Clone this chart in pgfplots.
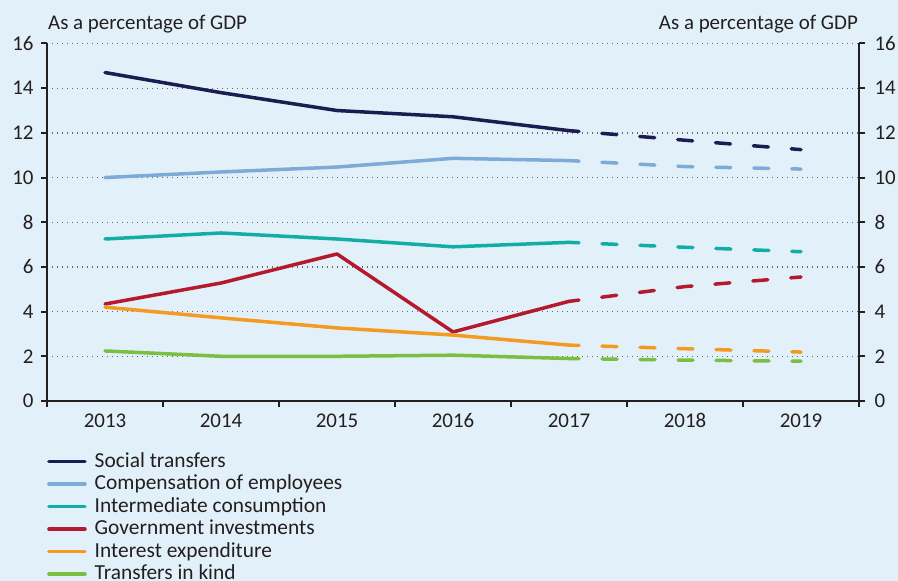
\documentclass[border=0pt]{standalone}
\usepackage{fontspec}
\setmainfont{Carlito}
\usepackage{pgfplots}
\pgfplotsset{compat=1.18}
\definecolor{bgcol}{RGB}{226,241,249}
\definecolor{txt}{RGB}{35,31,32}
\definecolor{cNavy}{RGB}{27,29,80}
\definecolor{cLblue}{RGB}{125,170,214}
\definecolor{cTeal}{RGB}{18,174,166}
\definecolor{cRed}{RGB}{180,25,45}
\definecolor{cOrange}{RGB}{243,154,33}
\definecolor{cGreen}{RGB}{122,190,66}
\pgfplotsset{
  base/.style={scale only axis, width=812bp, height=357.5bp,
    at={(47bp,180bp)}, anchor=south west,
    xmin=2012.5, xmax=2019.5, ymin=0, ymax=16,
    ytick={0,2,...,16},
    axis line style={txt, line width=2.5bp},
    tick style={txt, line width=2bp},
    major tick length=6bp, tick align=outside,
    ticklabel style={font=\fontsize{21}{23}\selectfont, text=txt},
    /pgf/number format/assume math mode=true},
  act/.style={line width=3.5bp, line cap=round, line join=round},
  fc/.style={line width=3.5bp, line cap=round, dash pattern=on 15bp off 23bp, dash phase=5bp, forget plot},
}
\begin{document}
\begin{tikzpicture}[x=1bp,y=1bp]
\path[use as bounding box, fill=bgcol] (0,0) rectangle (898,581);
\node[anchor=base west, font=\fontsize{21}{23}\selectfont, text=txt, inner sep=0pt] at (48,551) {As a percentage of GDP};
\node[anchor=base east, font=\fontsize{21}{23}\selectfont, text=txt, inner sep=0pt] at (858,551) {As a percentage of GDP};
% right axis
\begin{axis}[base, axis x line=none, axis y line*=right, yticklabel style={xshift=6bp}]
\end{axis}
% main axis
\begin{axis}[base, axis x line*=bottom, axis y line*=left,
  yticklabel style={xshift=-4bp},
  xtick={2012.5,2013.5,2014.5,2015.5,2016.5,2017.5,2018.5,2019.5},
  xticklabels={},
  extra x ticks={2013,2014,2015,2016,2017,2018,2019},
  extra x tick labels={2013,2014,2015,2016,2017,2018,2019},
  extra x tick style={major tick length=0pt, tick style={draw=none}, xticklabel style={yshift=-9bp}},
  ymajorgrids, grid style={gray!80!black, line width=1.3bp, dash pattern=on 1.3bp off 3.7bp},
  legend cell align=left,
  legend style={at={(0,-0.14)}, anchor=north west, draw=none, fill=none, inner sep=0pt,
    font=\fontsize{21.5}{23}\selectfont, text=txt, row sep=1.5bp,
    nodes={inner sep=0pt, text height=16bp, text depth=5bp},
    /tikz/every odd column/.append style={column sep=8bp}},
  legend image code/.code={\draw[#1, line width=3.5bp, line cap=round, solid] (0bp,0bp) -- (36bp,0bp);},
]
\addplot[cNavy, act] coordinates {(2013,14.7)(2014,13.8)(2015,13.0)(2016,12.72)(2017,12.1)};
\addlegendentry{Social transfers}
\addplot[cLblue, act] coordinates {(2013,10.0)(2014,10.25)(2015,10.47)(2016,10.86)(2017,10.76)};
\addlegendentry{Compensation of employees}
\addplot[cTeal, act] coordinates {(2013,7.25)(2014,7.52)(2015,7.25)(2016,6.9)(2017,7.1)};
\addlegendentry{Intermediate consumption}
\addplot[cRed, act] coordinates {(2013,4.34)(2014,5.28)(2015,6.58)(2016,3.09)(2017,4.46)};
\addlegendentry{Government investments}
\addplot[cOrange, act] coordinates {(2013,4.2)(2014,3.72)(2015,3.27)(2016,2.95)(2017,2.5)};
\addlegendentry{Interest expenditure}
\addplot[cGreen, act] coordinates {(2013,2.24)(2014,2.0)(2015,2.0)(2016,2.05)(2017,1.9)};
\addlegendentry{Transfers in kind}
\addplot[cNavy, fc] coordinates {(2017,12.1)(2018,11.67)(2019,11.25)};
\addplot[cLblue, fc] coordinates {(2017,10.76)(2018,10.49)(2019,10.38)};
\addplot[cTeal, fc] coordinates {(2017,7.1)(2018,6.88)(2019,6.68)};
\addplot[cRed, fc] coordinates {(2017,4.46)(2018,5.12)(2019,5.55)};
\addplot[cOrange, fc] coordinates {(2017,2.5)(2018,2.34)(2019,2.19)};
\addplot[cGreen, fc] coordinates {(2017,1.9)(2018,1.83)(2019,1.78)};
\end{axis}
\end{tikzpicture}
\end{document}
